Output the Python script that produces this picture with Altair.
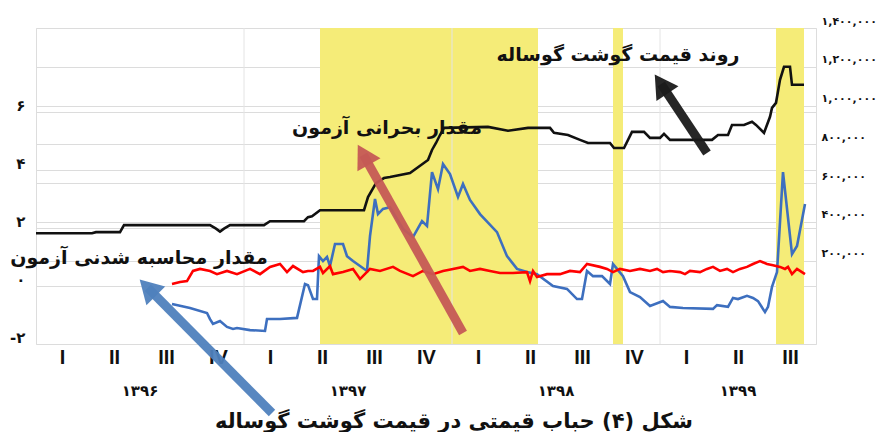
import math
import altair as alt
import pandas as pd

# ---------------- data (x in weeks from start of 1396, 13 weeks per quarter) ----------------
black_week = [0, 14, 15, 21, 22, 43.5, 45, 46, 47, 48.5, 57, 58.5, 67, 68, 69, 71, 82, 83, 85, 87,
              88.5, 93.5, 98, 99, 100, 101, 102, 113, 118, 123, 128.5, 129.5, 133, 136, 138, 143.5,
              144.5, 147, 149, 152, 153.5, 156, 157, 158.5, 169, 170.5, 173, 174, 177, 179, 180,
              182, 183.5, 184, 185, 186, 187, 188.5, 189, 192]
black_price = [341000, 341000, 347000, 347000, 383000, 383000, 365000, 350000, 365000, 383000,
               383000, 403000, 403000, 424000, 429000, 460000, 460000, 528000, 600000, 626000,
               631000, 652000, 719000, 771000, 807000, 848000, 885000, 890000, 870000, 885000,
               885000, 859000, 848000, 823000, 807000, 807000, 781000, 781000, 864000, 864000,
               833000, 833000, 854000, 823000, 823000, 848000, 848000, 900000, 900000, 916000,
               900000, 859000, 942000, 988000, 1014000, 1133000, 1200000, 1200000, 1107000, 1107000]

blue_week = [34, 38.5, 42.75, 43.5, 44.25, 46, 47.75, 49.25, 50.25, 53.5, 57.25, 57.75, 61, 65.25,
             67.25, 68, 69.25, 70.25, 70.75, 71.75, 72.75, 73.5, 74.75, 76.75, 77.75, 79.25, 82.75,
             83.5, 84.75, 85.5, 86.75, 88.5, 91.75, 94.25, 96.5, 97.75, 99, 100.5, 101.75, 103.5,
             105.5, 106.75, 108.5, 111, 115.25, 117.75, 120.25, 122.75, 125.25, 129.25, 132.75,
             135.25, 136.5, 137.75, 139.25, 141.5, 143.5, 144.25, 145.25, 146.75, 148.5, 151,
             153.5, 156.75, 158.5, 161.75, 169.25, 170.25, 173, 174.25, 175.5, 177.75, 179.25,
             180.5, 182.25, 183, 184, 185.25, 186.75, 189, 190.25, 192.25]
blue_stat = [-0.62, -0.76, -0.93, -1.14, -1.31, -1.21, -1.41, -1.48, -1.45, -1.52, -1.55, -1.14,
             -1.14, -1.10, 0.07, 0.03, -0.45, -0.45, 1.03, 0.86, 1.00, 0.69, 1.45, 1.45, 1.03,
             0.86, 0.52, 1.72, 3.00, 2.48, 2.66, 2.72, 1.97, 1.69, 2.24, 2.07, 3.93, 3.34, 4.21,
             3.86, 3.07, 3.52, 2.97, 2.48, 1.86, 1.03, 0.59, 0.48, 0.41, 0.00, -0.10, -0.45,
             -0.45, 0.52, 0.34, 0.34, 0.07, 0.76, 0.59, 0.34, -0.21, -0.38, -0.69, -0.52, -0.72,
             -0.76, -0.79, -0.66, -0.72, -0.41, -0.45, -0.34, -0.41, -0.52, -0.90, -0.72, -0.03,
             0.48, 3.93, 1.10, 1.38, 2.83]

red_week = [34, 36, 37.75, 39.25, 41, 43.5, 45.25, 47.75, 50.25, 53.5, 56, 58.5, 61, 62.75, 64.25,
            66.75, 68, 69.25, 71, 71.75, 73.5, 74.25, 76.75, 79.25, 81, 83.5, 86, 89.25, 91, 94.25,
            96.75, 99.25, 101.75, 104.25, 106.75, 108.5, 111, 113.5, 116, 119.25, 122.75, 123.5,
            124.25, 125.25, 127.75, 131, 133.5, 136, 137.75, 141, 142.75, 144.25, 146, 148.5, 151,
            153.5, 155.25, 156.75, 158.5, 161, 162.25, 163.5, 166, 167.75, 169.25, 171, 172.75,
            174.25, 176, 177.75, 179.25, 181, 182.75, 184.25, 186, 187.25, 188, 189, 190.25, 192.25]
red_cv = [0.07, 0.14, 0.17, 0.52, 0.59, 0.52, 0.41, 0.52, 0.41, 0.59, 0.41, 0.66, 0.76, 0.48, 0.69,
          0.48, 0.52, 0.52, 0.66, 0.45, 0.69, 0.41, 0.48, 0.59, 0.24, 0.59, 0.52, 0.66, 0.52, 0.34,
          0.52, 0.41, 0.52, 0.59, 0.66, 0.52, 0.59, 0.52, 0.45, 0.45, 0.48, 0.17, 0.52, 0.31, 0.41,
          0.41, 0.52, 0.48, 0.76, 0.66, 0.59, 0.48, 0.59, 0.52, 0.59, 0.52, 0.59, 0.48, 0.52, 0.48,
          0.41, 0.52, 0.48, 0.59, 0.66, 0.52, 0.59, 0.48, 0.59, 0.66, 0.76, 0.86, 0.76, 0.72, 0.66,
          0.59, 0.66, 0.41, 0.59, 0.41]

bubble_start = [71, 144.25, 185]
bubble_end = [125.5, 146.75, 192]

quarter_labels = ["I", "II", "III", "IV"] * 3 + ["I", "II", "III"]
years = ["۱۳۹۶", "۱۳۹۷", "۱۳۹۸", "۱۳۹۹"]
year_quarters = [4, 4, 4, 3]
year_lines = [52, 104, 156]
WPQ = 13

left_ticks = [-2, 0, 2, 4, 6]
left_labels = ["-۲", "۰", "۲", "۴", "۶"]
right_ticks = [200000, 400000, 600000, 800000, 1000000, 1200000, 1400000]
right_labels = ["۲۰۰,۰۰۰", "۴۰۰,۰۰۰", "۶۰۰,۰۰۰", "۸۰۰,۰۰۰", "۱,۰۰۰,۰۰۰", "۱,۲۰۰,۰۰۰", "۱,۴۰۰,۰۰۰"]

ann_text = ["روند قیمت گوشت گوساله", "مقدار بحرانی آزمون", "مقدار محاسبه شدنی آزمون"]
ann_week = [145.5, 87.75, 25.75]
ann_val = [7.97, 5.45, 0.97]

arrow_color = ["#1a1a1a", "#C55A55", "#4F81BD"]
arrow_tail_w = [167.75, 106.75, 59]
arrow_tail_v = [4.59, -1.62, -4.38]
arrow_tip_w = [154.75, 80.5, 26]
arrow_tip_v = [7.28, 4.86, 0.21]

title_text = "شکل (۴) حباب قیمتی در قیمت گوشت گوساله"

# ---------------- layout ----------------
W, H = 780, 316
X_DOM = [0, 195]
L_DOM = [-2, 8.9]
R_DOM = [-230000, 1400000]
FA = "DejaVu Sans"

px_w = W / (X_DOM[1] - X_DOM[0])
px_v = H / (L_DOM[1] - L_DOM[0])


def label_expr(vals, labs):
    e = "''"
    for v, l in reversed(list(zip(vals, labs))):
        e = f"datum.value == {v} ? '{l}' : ({e})"
    return e


q_ticks = [WPQ * k + WPQ / 2 for k in range(len(quarter_labels))]

# arrows: shaft to head centre, head rotated
rows = []
HEAD_H = 11
for c, tw, tv, hw, hv in zip(arrow_color, arrow_tail_w, arrow_tail_v, arrow_tip_w, arrow_tip_v):
    dx = (hw - tw) * px_w
    dy = -(hv - tv) * px_v
    L = math.hypot(dx, dy)
    ux, uy = dx / L, dy / L
    cw = hw - ux * HEAD_H / px_w
    cv = hv + uy * HEAD_H / px_v
    ang = math.degrees(math.atan2(ux, -uy)) % 360
    rows.append(dict(c=c, s=tw, v=tv, cw=cw, cv=cv, ang=ang))
arrows = pd.DataFrame(rows)

x_scale = alt.Scale(domain=X_DOM, nice=False, zero=False)
yl_scale = alt.Scale(domain=L_DOM, nice=False, zero=False)
yr_scale = alt.Scale(domain=R_DOM, nice=False, zero=False)

x_axis = alt.Axis(values=q_ticks, labelExpr=label_expr(q_ticks, quarter_labels),
                  grid=False, domain=False, ticks=False, labelFont="Liberation Sans",
                  labelFontSize=20, labelFontWeight="bold", labelColor="#111",
                  labelPadding=3, labelAngle=0, title=None)
yl_axis = alt.Axis(orient="left", values=left_ticks,
                   labelExpr=label_expr(left_ticks, left_labels), domain=False,
                   ticks=False, grid=True, gridColor="#DCDCDC", labelFont=FA,
                   labelFontSize=15, labelFontWeight="bold", labelColor="#111",
                   labelPadding=11, labelOffset=-7, title=None)
yr_axis = alt.Axis(orient="right", values=right_ticks,
                   labelExpr=label_expr(right_ticks, right_labels), domain=False,
                   ticks=False, grid=True, gridColor="#DCDCDC", labelFont=FA,
                   labelFontSize=11, labelFontWeight="bold", labelColor="#111",
                   labelPadding=5, labelOffset=-7, title=None)


def X(f):
    return alt.X(f, scale=x_scale, axis=x_axis)


def YL(f):
    return alt.Y(f, scale=yl_scale, axis=yl_axis)


bubbles = pd.DataFrame({"s": bubble_start, "e": bubble_end})
rects = alt.Chart(bubbles).mark_rect(color="#F5EC78").encode(x=X("s:Q"), x2="e:Q")

vgrid = alt.Chart(pd.DataFrame({"s": year_lines})).mark_rule(color="#E4E4E4", strokeWidth=1).encode(
    x=X("s:Q")
)

black = alt.Chart(pd.DataFrame({"s": black_week, "p": black_price})).mark_line(
    color="#111111", strokeWidth=2.6
).encode(
    x=X("s:Q"),
    y=alt.Y("p:Q", scale=yr_scale, axis=yr_axis),
)

lr = pd.concat([
    pd.DataFrame({"s": blue_week, "v": blue_stat, "k": "BSADF"}),
    pd.DataFrame({"s": red_week, "v": red_cv, "k": "CV"}),
])
lines = alt.Chart(lr).mark_line(strokeWidth=2.6).encode(
    x=X("s:Q"),
    y=YL("v:Q"),
    color=alt.Color("k:N", scale=alt.Scale(domain=["BSADF", "CV"], range=["#3D6FBF", "#FF0000"]),
                    legend=None),
)

shafts = alt.Chart(arrows).mark_rule(strokeWidth=9, strokeCap="butt", opacity=0.95).encode(
    x=X("s:Q"), x2="cw:Q",
    y=YL("v:Q"), y2="cv:Q",
    color=alt.Color("c:N", scale=None),
)
heads = alt.Chart(arrows).mark_point(shape="triangle-up", filled=True, size=700, opacity=0.95).encode(
    x=X("cw:Q"),
    y=YL("cv:Q"),
    color=alt.Color("c:N", scale=None),
    angle=alt.Angle("ang:Q", scale=None),
)

ann = alt.Chart(pd.DataFrame({"t": ann_text, "s": ann_week, "v": ann_val})).mark_text(
    font=FA, fontSize=19, fontWeight="bold", color="#111", align="center", baseline="middle"
).encode(
    x=X("s:Q"),
    y=YL("v:Q"),
    text="t:N",
)

yc = []
acc = 0
for q in year_quarters:
    yc.append((acc + q / 2) * WPQ)
    acc += q
year_txt = alt.Chart(pd.DataFrame({"y": years, "s": yc})).mark_text(
    font=FA, fontSize=15, fontWeight="bold", color="#111", baseline="middle"
).encode(
    x=X("s:Q"),
    y=alt.value(H + 47),
    text="y:N",
)

left_group = alt.layer(lines, shafts, heads, ann, year_txt)

chart = alt.layer(rects, vgrid, black, left_group).resolve_scale(y="independent").properties(
    width=W, height=H,
    autosize=alt.AutoSizeParams(type="none"),
    padding={"left": 28, "top": 20, "right": 64, "bottom": 88},
    title=alt.TitleParams(title_text, orient="bottom", anchor="middle", font=FA, fontSize=21,
                          fontWeight="bold", color="#111", offset=0, dx=28, dy=-6),
).configure_view(stroke=None).configure(background="white")

chart.save("out.html", embed_options={"renderer": "svg", "actions": False})
